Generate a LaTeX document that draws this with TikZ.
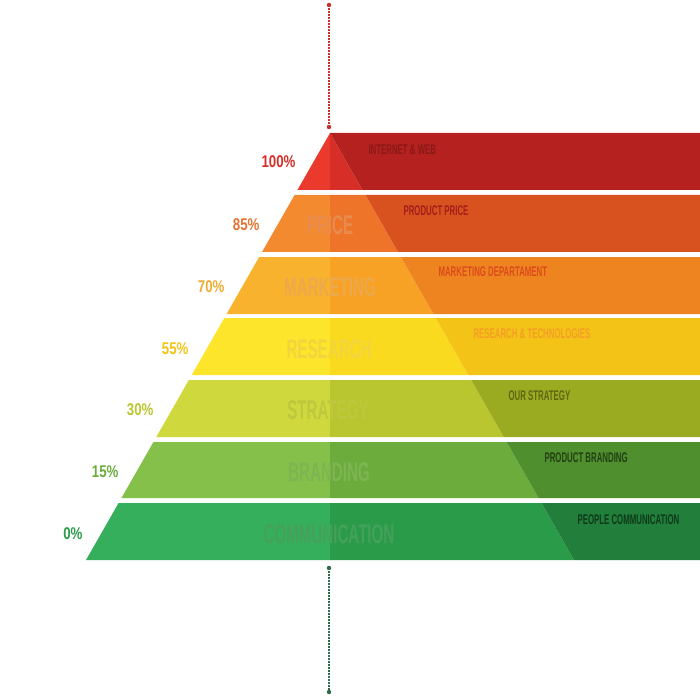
\documentclass[tikz,border=0pt]{standalone}
\usepackage{fontspec}
\setmainfont{Liberation Sans}
\newfontfamily\narrowfont{Liberation Sans}[FakeStretch=0.78]
\newfontfamily\condfont{Liberation Sans}[FakeStretch=0.56]
\definecolor{tier1light}{HTML}{EA392D}
\definecolor{tier1mid}{HTML}{D72E27}
\definecolor{tier1dark}{HTML}{B5211F}
\definecolor{tier2light}{HTML}{F38A2F}
\definecolor{tier2mid}{HTML}{EE7429}
\definecolor{tier2dark}{HTML}{D8521F}
\definecolor{tier3light}{HTML}{F8B22D}
\definecolor{tier3mid}{HTML}{F7A225}
\definecolor{tier3dark}{HTML}{EE8420}
\definecolor{tier4light}{HTML}{FCE52A}
\definecolor{tier4mid}{HTML}{FADA1E}
\definecolor{tier4dark}{HTML}{F3C417}
\definecolor{tier5light}{HTML}{CFD93D}
\definecolor{tier5mid}{HTML}{BAC62F}
\definecolor{tier5dark}{HTML}{9BAB21}
\definecolor{tier6light}{HTML}{84C04A}
\definecolor{tier6mid}{HTML}{6CAC3C}
\definecolor{tier6dark}{HTML}{4F8F2D}
\definecolor{tier7light}{HTML}{35AF5B}
\definecolor{tier7mid}{HTML}{2A9B48}
\definecolor{tier7dark}{HTML}{217F3B}
\definecolor{word2}{HTML}{E88B4E}
\definecolor{word3}{HTML}{ECA84B}
\definecolor{word4}{HTML}{F1D43E}
\definecolor{word5}{HTML}{BEC83E}
\definecolor{word6}{HTML}{7DB553}
\definecolor{word7}{HTML}{45A05A}
\definecolor{topguide}{HTML}{C8302C}
\definecolor{bottomguide}{HTML}{2E6B4A}
\begin{document}
\begin{tikzpicture}[x=1pt,y=-1pt,
  pct/.style={anchor=east, font=\narrowfont\bfseries\fontsize{17}{17}\selectfont},
  heading/.style={anchor=west, font=\condfont\bfseries\fontsize{14}{14}\selectfont},
  tierword/.style={font=\condfont\bfseries\fontsize{27}{27}\selectfont},
  guide/.style={line width=2.6pt, dash pattern=on 1.6pt off 1.4pt}]
\fill[white] (0,0) rectangle (700,700);
\useasboundingbox (0,0) rectangle (700,700);
% bands of the pyramid
\foreach \t/\b/\tier in {133/190/1,195/252/2,257/314/3,318/375/4,380/437/5,442/498/6,503/560/7}{
  \pgfmathsetmacro\lt{330-0.5714*(\t-133)}
  \pgfmathsetmacro\lb{330-0.5714*(\b-133)}
  \pgfmathsetmacro\rt{330+0.5714*(\t-133)}
  \pgfmathsetmacro\rb{330+0.5714*(\b-133)}
  \fill[tier\tier light] (\lt,\t) -- (330,\t) -- (330,\b) -- (\lb,\b) -- cycle;
  \fill[tier\tier mid] (330,\t) -- (\rt,\t) -- (\rb,\b) -- (330,\b) -- cycle;
  \fill[tier\tier dark] (\rt,\t) -- (700,\t) -- (700,\b) -- (\rb,\b) -- cycle;
}
% dotted guides
\coordinate (topstart) at (329,5);
\coordinate (topend) at (329,127);
\coordinate (bottomstart) at (329,568);
\coordinate (bottomend) at (329,692);
\draw[guide, topguide] (topstart) -- (topend);
\fill[topguide] (topstart) circle (2.2) (topend) circle (2.2);
\draw[guide, bottomguide] (bottomstart) -- (bottomend);
\fill[bottomguide] (bottomstart) circle (2.2) (bottomend) circle (2.2);
% percentages
\node[pct, text=tier1mid] (p100) at (299,162) {100\%};
\node[pct, text=tier2mid!90!gray] (p85) at (263,225) {85\%};
\node[pct, text=tier3light!92!gray] (p70) at (228,287) {70\%};
\node[pct, text=tier4dark] (p55) at (192,349) {55\%};
\node[pct, text=tier5mid] (p30) at (157,410) {30\%};
\node[pct, text=tier6mid] (p15) at (122,472) {15\%};
\node[pct, text=tier7mid] (p0) at (86,534) {0\%};
% words inside the pyramid
\node[tierword, text=word2] (price) at (330,225) {PRICE};
\node[tierword, text=word3] (marketing) at (330,287) {MARKETING};
\node[tierword, text=word4] (research) at (329,349) {RESEARCH};
\node[tierword, text=word5] (strategy) at (328,410) {STRATEGY};
\node[tierword, text=word6] (branding) at (329,472) {BRANDING};
\node[tierword, text=word7] (communication) at (329,534) {COMMUNICATION};
% headings on the right
\node[heading, text=tier1dark!75!black] (internet) at (365,150) {INTERNET \& WEB};
\node[heading, text=tier1dark!90!black] (productprice) at (400,211) {PRODUCT PRICE};
\node[heading, text=tier2dark!90!red] (department) at (435,272) {MARKETING DEPARTAMENT};
\node[heading, text=tier3mid!90!tier2mid] (technologies) at (470,334) {RESEARCH \& TECHNOLOGIES};
\node[heading, text=tier5dark!60!black] (ourstrategy) at (505,396) {OUR STRATEGY};
\node[heading, text=tier6dark!45!black] (productbranding) at (541,458) {PRODUCT BRANDING};
\node[heading, text=tier7dark!45!black] (people) at (574,520) {PEOPLE COMMUNICATION};
\end{tikzpicture}
\end{document}
